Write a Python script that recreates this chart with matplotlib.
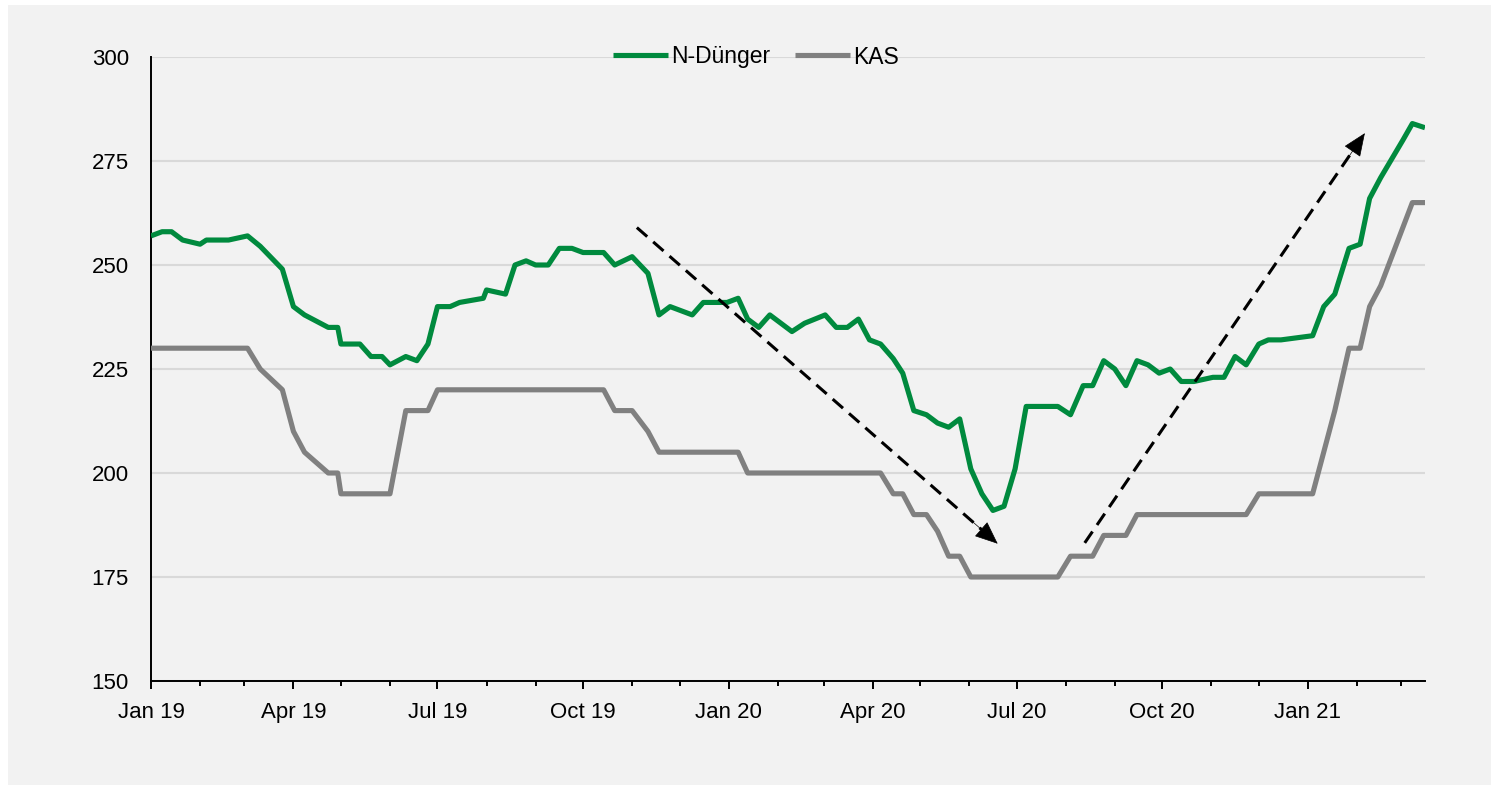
import matplotlib
matplotlib.use("Agg")
import matplotlib.pyplot as plt
import matplotlib.dates as mdates
from matplotlib.patches import Rectangle
import pandas as pd

plt.rcParams['font.family'] = ['Liberation Sans', 'DejaVu Sans']

dates = [
    "2019-01-01", "2019-01-08", "2019-01-14", "2019-01-21", "2019-02-01", "2019-02-05", "2019-02-19", "2019-03-03", "2019-03-11", "2019-03-25",
    "2019-04-01", "2019-04-08", "2019-04-23", "2019-04-29", "2019-05-01", "2019-05-13", "2019-05-20", "2019-05-27", "2019-06-01", "2019-06-11",
    "2019-06-18", "2019-06-25", "2019-07-01", "2019-07-09", "2019-07-15", "2019-07-30", "2019-08-01", "2019-08-13", "2019-08-19", "2019-08-26",
    "2019-09-01", "2019-09-09", "2019-09-16", "2019-09-24", "2019-10-01", "2019-10-14", "2019-10-21", "2019-11-01", "2019-11-11", "2019-11-18",
    "2019-11-25", "2019-12-09", "2019-12-16", "2019-12-31", "2020-01-07", "2020-01-13", "2020-01-20", "2020-01-27", "2020-02-10", "2020-02-18",
    "2020-03-02", "2020-03-09", "2020-03-16", "2020-03-23", "2020-03-30", "2020-04-06", "2020-04-14", "2020-04-20", "2020-04-27", "2020-05-05",
    "2020-05-12", "2020-05-19", "2020-05-26", "2020-06-02", "2020-06-09", "2020-06-16", "2020-06-23", "2020-06-30", "2020-07-07", "2020-07-14",
    "2020-07-27", "2020-08-04", "2020-08-12", "2020-08-18", "2020-08-25", "2020-09-01", "2020-09-08", "2020-09-15", "2020-09-22", "2020-09-29",
    "2020-10-06", "2020-10-13", "2020-10-21", "2020-11-02", "2020-11-09", "2020-11-16", "2020-11-23", "2020-12-01", "2020-12-07", "2020-12-15",
    "2021-01-04", "2021-01-11", "2021-01-18", "2021-01-27", "2021-02-03", "2021-02-09", "2021-02-16", "2021-03-02", "2021-03-08", "2021-03-16",
]

n_duenger = [
    257, 258, 258, 256, 255, 256, 256, 257, 254.5, 249,
    240, 238, 235, 235, 231, 231, 228, 228, 226, 228,
    227, 231, 240, 240, 241, 242, 244, 243, 250, 251,
    250, 250, 254, 254, 253, 253, 250, 252, 248, 238,
    240, 238, 241, 241, 242, 237, 235, 238, 234, 236,
    238, 235, 235, 237, 232, 231, 227.5, 224, 215, 214,
    212, 211, 213, 201, 195, 191, 192, 201, 216, 216,
    216, 214, 221, 221, 227, 225, 221, 227, 226, 224,
    225, 222, 222, 223, 223, 228, 226, 231, 232, 232,
    233, 240, 243, 254, 255, 266, 271, 280, 284, 283,
]

kas = [
    230, 230, 230, 230, 230, 230, 230, 230, 225, 220,
    210, 205, 200, 200, 195, 195, 195, 195, 195, 215,
    215, 215, 220, 220, 220, 220, 220, 220, 220, 220,
    220, 220, 220, 220, 220, 220, 215, 215, 210, 205,
    205, 205, 205, 205, 205, 200, 200, 200, 200, 200,
    200, 200, 200, 200, 200, 200, 195, 195, 190, 190,
    186, 180, 180, 175, 175, 175, 175, 175, 175, 175,
    175, 180, 180, 180, 185, 185, 185, 190, 190, 190,
    190, 190, 190, 190, 190, 190, 190, 195, 195, 195,
    195, 205, 215, 230, 230, 240, 245, 259, 265, 265,
]

series_names = ["N-Dünger", "KAS"]
y_ticks = [150, 175, 200, 225, 250, 275, 300]

# trend arrows (start, end) in data coordinates
arrow_down = (("2019-11-04", 259.0), ("2020-06-19", 183.0))
arrow_up = (("2020-08-13", 183.2), ("2021-02-06", 281.7))

GREEN = "#008A3E"
GRAY = "#808080"
BG = "#F2F2F2"

W, H = 1491, 785
fig = plt.figure(figsize=(W / 100, H / 100), dpi=100, facecolor="white")
fig.patches.append(Rectangle((8 / W, 0), 1 - 8 / W, 1 - 5 / H, transform=fig.transFigure,
                             facecolor=BG, edgecolor="none", zorder=-10))

ax = fig.add_axes([151 / W, 1 - 681 / H, (1425 - 151) / W, (681 - 57) / H])
ax.set_facecolor(BG)

x = pd.to_datetime(dates)
ax.plot(x, n_duenger, color=GREEN, lw=3.7, label=series_names[0], zorder=3,
        solid_joinstyle="round", solid_capstyle="butt")
ax.plot(x, kas, color=GRAY, lw=3.7, label=series_names[1], zorder=3,
        solid_joinstyle="round", solid_capstyle="butt")

for (s, e) in (arrow_down, arrow_up):
    xs, ys = mdates.date2num(pd.Timestamp(s[0])), s[1]
    xe, ye = mdates.date2num(pd.Timestamp(e[0])), e[1]
    # dashed shaft, stopping where the head begins
    f = 0.955
    ax.plot([xs, xs + f * (xe - xs)], [ys, ys + f * (ye - ys)], color="black", lw=2.2,
            dashes=(4.5, 2.6), dash_capstyle="butt", zorder=4)
    # solid filled head
    g = 0.93
    ax.annotate("", xy=(xe, ye), xytext=(xs + g * (xe - xs), ys + g * (ye - ys)),
                arrowprops=dict(arrowstyle="-|>,head_length=1.0,head_width=0.42",
                                color="black", lw=0.5, shrinkA=0, shrinkB=0,
                                mutation_scale=15, linestyle="solid"),
                zorder=4)

ax.set_xlim(x[0], x[-1])
ax.set_ylim(150, 300)
ax.set_yticks(y_ticks)
ax.grid(axis="y", color="#D9D9D9", lw=1.5, zorder=0)
ax.set_axisbelow(True)

ax.xaxis.set_major_locator(mdates.MonthLocator(bymonth=[1, 4, 7, 10]))
ax.xaxis.set_minor_locator(mdates.MonthLocator())
ax.xaxis.set_major_formatter(mdates.DateFormatter("%b %y"))

for sp in ("top", "right"):
    ax.spines[sp].set_visible(False)
for sp in ("left", "bottom"):
    ax.spines[sp].set_color("black")
    ax.spines[sp].set_linewidth(1.4)

ax.tick_params(axis="x", which="major", length=6, width=1.4, color="black",
               labelsize=16, pad=9, direction="out")
ax.tick_params(axis="x", which="minor", length=3.5, width=1.4, color="black", direction="out")
ax.tick_params(axis="y", which="both", length=0, labelsize=16, pad=16)

leg = fig.legend(loc="center", bbox_to_anchor=(756 / W, 1 - 57 / H), ncol=2, frameon=False,
                 fontsize=16.5, handlelength=2.4, handletextpad=0.15, columnspacing=1.05,
                 borderpad=0, borderaxespad=0)

fig.savefig("out.png", dpi=100, facecolor=fig.get_facecolor())
